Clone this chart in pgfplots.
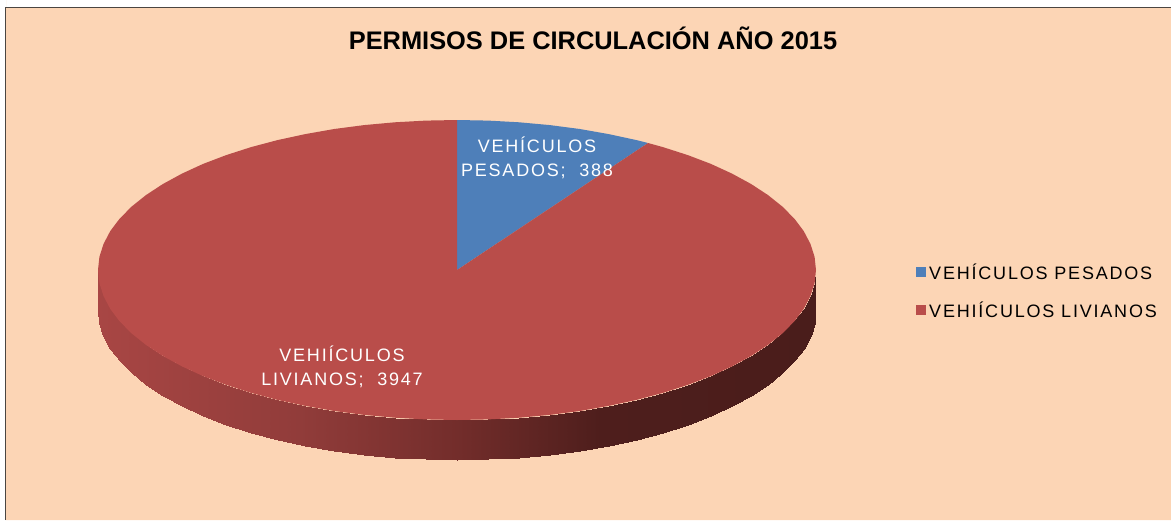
\documentclass[border=0pt]{standalone}
\usepackage{pgfplots}
\usepackage{fontspec}
\pgfplotsset{compat=1.18}
\setmainfont{Liberation Sans}
\newfontfamily\spaced[LetterSpace=10]{Liberation Sans}
\definecolor{bg}{HTML}{FCD5B5}
\definecolor{pieblue}{HTML}{4E7FB9}
\definecolor{piered}{HTML}{B94D4A}
\newcommand{\lbl}{\fontsize{18}{24}\spaced}
\begin{document}
\begin{tikzpicture}
\begin{axis}[
  scale only axis, width=1171pt, height=520pt,
  xmin=0, xmax=1171, ymin=0, ymax=520, y dir=reverse,
  ticks=none, axis line style={draw=none},
  colormap={side}{rgb255(0pt)=(168,70,68); rgb255(202pt)=(145,60,58); rgb255(359pt)=(115,45,43); rgb255(502pt)=(78,30,28); rgb255(718pt)=(74,29,27)},
  point meta min=98, point meta max=816,
  legend style={at={(axis cs:916,264)}, anchor=north west, draw=none, fill=none,
    font=\lbl, row sep=22pt, inner sep=0pt, nodes={inner sep=0pt, text depth=0pt},
    /tikz/every even column/.append style={column sep=5pt}},
  legend cell align=left,
  legend image code/.code={\fill[#1] (0pt,-5pt) rectangle (10pt,5pt); \path (0pt,0pt) (13pt,0pt);},
]
% page and frame
\addplot[forget plot, fill=white, draw=none] coordinates {(0,0)(1171,0)(1171,520)(0,520)} \closedcycle;
\addplot[forget plot, fill=bg, draw=none] coordinates {(6,8)(1171,8)(1171,520)(6,520)} \closedcycle;
\addplot[forget plot, draw={rgb,255:red,75;green,70;blue,65}, line width=1.6pt] coordinates {(5.5,520)(5.5,7.5)(1171,7.5)};
% side of the disc
\addplot[forget plot, surf, shader=interp, mesh/rows=2, point meta=x] coordinates {
(98,270)(99.4,283.1)(103.5,296)(110.2,308.8)(119.6,321.3)(131.6,333.4)(146.1,345)(162.9,356)(182,366.4)(203.1,376.1)(226.2,384.9)(251.1,392.9)(277.5,399.9)(305.3,405.9)(334.2,411)(364.1,414.9)(394.7,417.7)(425.7,419.4)(457,420)(488.3,419.4)(519.3,417.7)(549.9,414.9)(579.8,411)(608.7,405.9)(636.5,399.9)(662.9,392.9)(687.8,384.9)(710.9,376.1)(732,366.4)(751.1,356)(767.9,345)(782.4,333.4)(794.4,321.3)(803.8,308.8)(810.5,296)(814.6,283.1)(816,270)

(98,310)(99.4,323.1)(103.5,336)(110.2,348.8)(119.6,361.3)(131.6,373.4)(146.1,385)(162.9,396)(182,406.4)(203.1,416.1)(226.2,424.9)(251.1,432.9)(277.5,439.9)(305.3,445.9)(334.2,451)(364.1,454.9)(394.7,457.7)(425.7,459.4)(457,460)(488.3,459.4)(519.3,457.7)(549.9,454.9)(579.8,451)(608.7,445.9)(636.5,439.9)(662.9,432.9)(687.8,424.9)(710.9,416.1)(732,406.4)(751.1,396)(767.9,385)(782.4,373.4)(794.4,361.3)(803.8,348.8)(810.5,336)(814.6,323.1)(816,310)
};
% VEHICULOS PESADOS: 388
\addplot[fill=pieblue, draw=none] coordinates {(457,270)(457,120)(488.3,120.6)(519.3,122.3)(549.9,125.1)(579.8,129)(608.7,134.1)(636.5,140.1)(648,143)} --cycle;
\addlegendentry{VEHÍCULOS PESADOS}
% VEHIICULOS LIVIANOS: 3947
\addplot[fill=piered, draw=none] coordinates {(457,270)(648,143)(662.9,147.1)(687.8,155.1)(710.9,163.9)(732,173.6)(751.1,184)(767.9,195)(782.4,206.6)(794.4,218.7)(803.8,231.2)(810.5,244)(814.6,256.9)(816,270)(814.6,283.1)(810.5,296)(803.8,308.8)(794.4,321.3)(782.4,333.4)(767.9,345)(751.1,356)(732,366.4)(710.9,376.1)(687.8,384.9)(662.9,392.9)(636.5,399.9)(608.7,405.9)(579.8,411)(549.9,414.9)(519.3,417.7)(488.3,419.4)(457,420)(425.7,419.4)(394.7,417.7)(364.1,414.9)(334.2,411)(305.3,405.9)(277.5,399.9)(251.1,392.9)(226.2,384.9)(203.1,376.1)(182,366.4)(162.9,356)(146.1,345)(131.6,333.4)(119.6,321.3)(110.2,308.8)(103.5,296)(99.4,283.1)(98,270)(99.4,256.9)(103.5,244)(110.2,231.2)(119.6,218.7)(131.6,206.6)(146.1,195)(162.9,184)(182,173.6)(203.1,163.9)(226.2,155.1)(251.1,147.1)(277.5,140.1)(305.3,134.1)(334.2,129)(364.1,125.1)(394.7,122.3)(425.7,120.6)(457,120)} --cycle;
\addlegendentry{VEHIÍCULOS LIVIANOS}
\node[font=\fontsize{25.4}{30}\selectfont\bfseries, anchor=center] at (axis cs:593,38) {PERMISOS DE CIRCULACIÓN AÑO 2015};
\node[font=\lbl, text=white, anchor=center] at (axis cs:537,145) {VEHÍCULOS};
\node[font=\lbl, text=white, anchor=center] at (axis cs:537,171) {PESADOS;\ \ 388};
\node[font=\lbl, text=white, anchor=center] at (axis cs:342,354) {VEHIÍCULOS};
\node[font=\lbl, text=white, anchor=center] at (axis cs:342,380) {LIVIANOS;\ \ 3947};
\end{axis}
\end{tikzpicture}
\end{document}
